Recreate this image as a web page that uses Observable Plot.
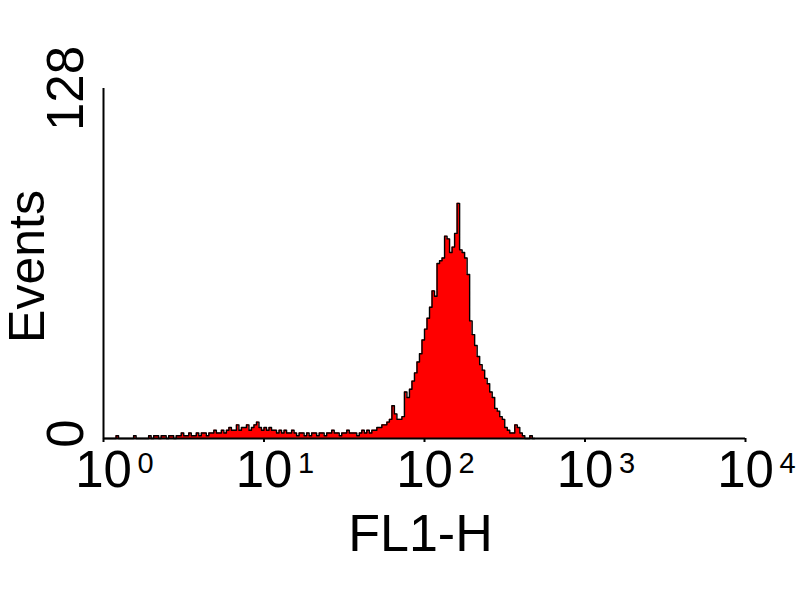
<!DOCTYPE html>
<html>
<head>
<meta charset="utf-8">
<script src="https://cdn.jsdelivr.net/npm/d3@7"></script>
<script src="https://cdn.jsdelivr.net/npm/@observablehq/plot@0.6"></script>
<style>
  html, body { margin: 0; padding: 0; background: #fff; }
  #chart svg { display: block; background: #fff; }
</style>
</head>
<body>
<div id="chart"></div>
<script>
// Histogram: events per channel (64 log channels per decade, starting at 10^0)
const channelsPerDecade = 64;
const counts = [
  0,0,0,0,0,1,0,0,0,0, 0,0,1,0,0,0,0,0,1,0,
  1,1,0,1,1,0,1,1,0,1, 1,2,1,1,2,1,1,2,1,2,
  2,1,2,2,3,2,2,3,2,3, 4,3,3,5,3,4,4,5,3,4,
  5,6,4,3,4,3,4,3,3,2, 3,2,3,2,2,3,2,1,2,2,
  1,2,1,2,2,1,2,2,1,2, 2,3,2,2,1,2,2,3,2,2,
  2,1,2,3,2,3,2,3,3,4, 4,5,5,6,7,12,9,7,7,8,
  17,15,18,21,24,28,31,36,40,44, 48,54,52,64,65,66,74,73,68,70,
  75,86,69,68,66,60,43,38,34,30, 27,25,22,20,17,15,11,10,8,7,
  4,3,2,2,5,4,2,1,0,0, 1,0
];
const xTicks = [1, 10, 100, 1000, 10000];
const xExponents = ["0", "1", "2", "3", "4"];
const yTickTop = [128];
const yTickBottom = [0];
const xLabel = "FL1-H";
const yLabel = "Events";

const outline = counts.map((c, i) => ({x: Math.pow(10, i / channelsPerDecade), y: c}));
outline.push({x: Math.pow(10, counts.length / channelsPerDecade), y: 0});

const font = "'Liberation Sans', Arial, Helvetica, sans-serif";

const chart = Plot.plot({
  width: 800,
  height: 600,
  marginLeft: 103,
  marginRight: 55,
  marginTop: 88,
  marginBottom: 162,
  style: {fontFamily: font, background: "#fff", color: "#000"},
  x: {type: "log", domain: [1, 10000], axis: null},
  y: {domain: [0, 128], axis: null},
  marks: [
    Plot.areaY(outline, {x: "x", y: "y", curve: "step-after", fill: "#ff0000"}),
    Plot.line(outline, {x: "x", y: "y", curve: "step-after", stroke: "#000", strokeWidth: 1.4}),
    Plot.ruleY([0], {stroke: "#000", strokeWidth: 2}),
    Plot.ruleX([1], {stroke: "#000", strokeWidth: 2}),
    Plot.axisX({ticks: xTicks, tickFormat: () => "10", tickSize: 4, tickPadding: 8,
      fontSize: 51, strokeWidth: 2, label: null}),
    Plot.text(xTicks, {x: d => d, y: () => 0, text: (d, i) => xExponents[i],
      dx: 34, dy: 14, textAnchor: "start", lineAnchor: "top", fontSize: 29}),
    Plot.text(yTickTop, {y: d => d, frameAnchor: "left", text: d => String(d), rotate: -90,
      dx: -21, textAnchor: "middle", lineAnchor: "bottom", fontSize: 51}),
    Plot.text(yTickBottom, {y: d => d, frameAnchor: "left", text: d => String(d), rotate: -90,
      dx: -21, dy: -5, textAnchor: "middle", lineAnchor: "bottom", fontSize: 51}),
    Plot.text([yLabel], {frameAnchor: "left", text: d => d, rotate: -90,
      dx: -60, dy: 3, textAnchor: "middle", lineAnchor: "bottom", fontSize: 50}),
    Plot.text([xLabel], {frameAnchor: "bottom", text: d => d,
      dx: -4, dy: 112, textAnchor: "middle", lineAnchor: "bottom", fontSize: 52})
  ]
});
document.getElementById("chart").append(chart);
</script>
</body>
</html>
